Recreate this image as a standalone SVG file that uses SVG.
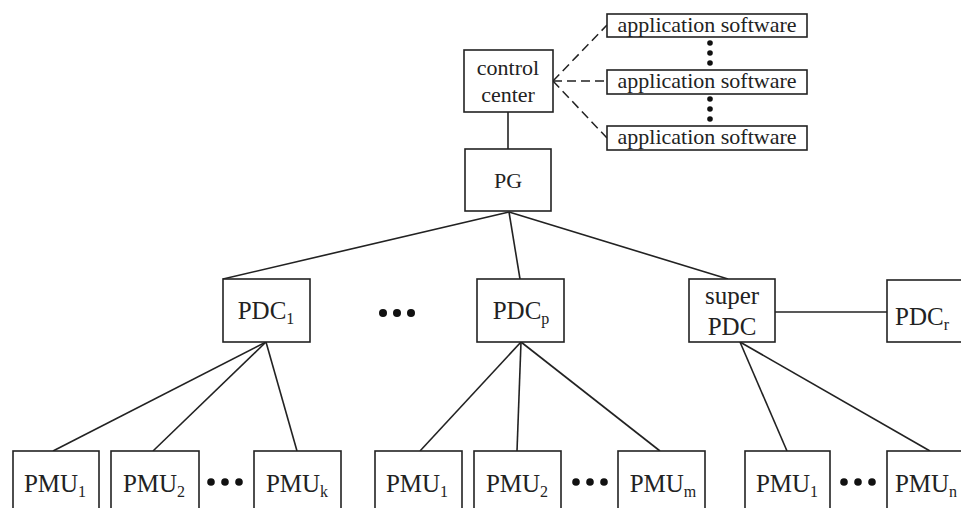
<svg xmlns="http://www.w3.org/2000/svg" width="961" height="508" viewBox="0 0 961 508">
<style>
.box{fill:#fff;stroke:#222;stroke-width:1.6}
.ln{stroke:#222;stroke-width:1.6;fill:none}
.dash{stroke:#222;stroke-width:1.5;fill:none;stroke-dasharray:9 5}
.t{font-family:"Liberation Serif","Times New Roman",serif;fill:#222;text-anchor:middle}
.s{font-size:22px}
.m{font-size:25px}
.sub{font-size:16px}
.dot{fill:#111}
</style>
<rect width="961" height="508" fill="#fff"/>
<g id="connectors">
<line class="ln" x1="508" y1="112" x2="508" y2="149"/>
<line class="dash" x1="553" y1="81" x2="607" y2="25"/>
<line class="dash" x1="553" y1="81" x2="607" y2="81"/>
<line class="dash" x1="553" y1="81" x2="607" y2="138"/>
<line class="ln" x1="509" y1="212" x2="223" y2="279"/>
<line class="ln" x1="509" y1="212" x2="520" y2="279"/>
<line class="ln" x1="509" y1="212" x2="728" y2="279"/>
<line class="ln" x1="775" y1="312" x2="887" y2="312"/>
<line class="ln" x1="266" y1="342" x2="53" y2="451"/>
<line class="ln" x1="266" y1="342" x2="153" y2="451"/>
<line class="ln" x1="266" y1="342" x2="297" y2="451"/>
<line class="ln" x1="521" y1="342" x2="420" y2="451"/>
<line class="ln" x1="521" y1="342" x2="517" y2="451"/>
<line class="ln" x1="521" y1="342" x2="660" y2="451"/>
<line class="ln" x1="740" y1="342" x2="787" y2="451"/>
<line class="ln" x1="740" y1="342" x2="930" y2="451"/>
</g>
<g id="app1"><rect class="box" x="607" y="14" width="200" height="23"/><text class="t s" x="707" y="32">application software</text></g>
<g id="app2"><rect class="box" x="607" y="70" width="200" height="24"/><text class="t s" x="707" y="88">application software</text></g>
<g id="app3"><rect class="box" x="607" y="126" width="200" height="24"/><text class="t s" x="707" y="144">application software</text></g>
<g id="appdots">
<circle class="dot" cx="710" cy="43" r="2.8"/><circle class="dot" cx="710" cy="53" r="2.8"/><circle class="dot" cx="710" cy="63" r="2.8"/>
<circle class="dot" cx="710" cy="99" r="2.8"/><circle class="dot" cx="710" cy="109" r="2.8"/><circle class="dot" cx="710" cy="119" r="2.8"/>
</g>
<g id="control-center"><rect class="box" x="464" y="50" width="89" height="62"/><text class="t s" x="508" y="75">control</text><text class="t s" x="508" y="102">center</text></g>
<g id="pg"><rect class="box" x="465" y="149" width="86" height="62"/><text class="t s" x="508" y="188">PG</text></g>
<g id="pdc1"><rect class="box" x="223" y="279" width="87" height="63"/><text class="t m" x="266" y="319">PDC<tspan class="sub" dy="5">1</tspan></text></g>
<g id="middots"><circle class="dot" cx="383" cy="313" r="4"/><circle class="dot" cx="397" cy="313" r="4"/><circle class="dot" cx="411" cy="313" r="4"/></g>
<g id="pdcp"><rect class="box" x="477" y="279" width="87" height="63"/><text class="t m" x="521" y="319">PDC<tspan class="sub" dy="5">p</tspan></text></g>
<g id="super-pdc"><rect class="box" x="689" y="279" width="86" height="63"/><text class="t m" x="732" y="304">super</text><text class="t m" x="732" y="335">PDC</text></g>
<g id="pdcr"><rect class="box" x="887" y="280" width="90" height="62"/><text class="t m" x="922" y="325">PDC<tspan class="sub" dy="5">r</tspan></text></g>
<g id="pmu1a"><rect class="box" x="13" y="451" width="86" height="70"/><text class="t m" x="55" y="492">PMU<tspan class="sub" dy="5">1</tspan></text></g>
<g id="pmu2a"><rect class="box" x="111" y="451" width="88" height="70"/><text class="t m" x="154" y="492">PMU<tspan class="sub" dy="5">2</tspan></text></g>
<g id="dotsa"><circle class="dot" cx="211" cy="482" r="3.8"/><circle class="dot" cx="225" cy="482" r="3.8"/><circle class="dot" cx="239" cy="482" r="3.8"/></g>
<g id="pmuk"><rect class="box" x="254" y="451" width="87" height="70"/><text class="t m" x="297" y="492">PMU<tspan class="sub" dy="5">k</tspan></text></g>
<g id="pmu1b"><rect class="box" x="375" y="451" width="87" height="70"/><text class="t m" x="417" y="492">PMU<tspan class="sub" dy="5">1</tspan></text></g>
<g id="pmu2b"><rect class="box" x="474" y="451" width="87" height="70"/><text class="t m" x="517" y="492">PMU<tspan class="sub" dy="5">2</tspan></text></g>
<g id="dotsb"><circle class="dot" cx="576" cy="482" r="3.8"/><circle class="dot" cx="590" cy="482" r="3.8"/><circle class="dot" cx="604" cy="482" r="3.8"/></g>
<g id="pmum"><rect class="box" x="618" y="451" width="87" height="70"/><text class="t m" x="663" y="492">PMU<tspan class="sub" dy="5">m</tspan></text></g>
<g id="pmu1c"><rect class="box" x="745" y="451" width="85" height="70"/><text class="t m" x="787" y="492">PMU<tspan class="sub" dy="5">1</tspan></text></g>
<g id="dotsc"><circle class="dot" cx="844" cy="482" r="3.8"/><circle class="dot" cx="858" cy="482" r="3.8"/><circle class="dot" cx="872" cy="482" r="3.8"/></g>
<g id="pmun"><rect class="box" x="887" y="451" width="90" height="70"/><text class="t m" x="926" y="492">PMU<tspan class="sub" dy="5">n</tspan></text></g>
</svg>
